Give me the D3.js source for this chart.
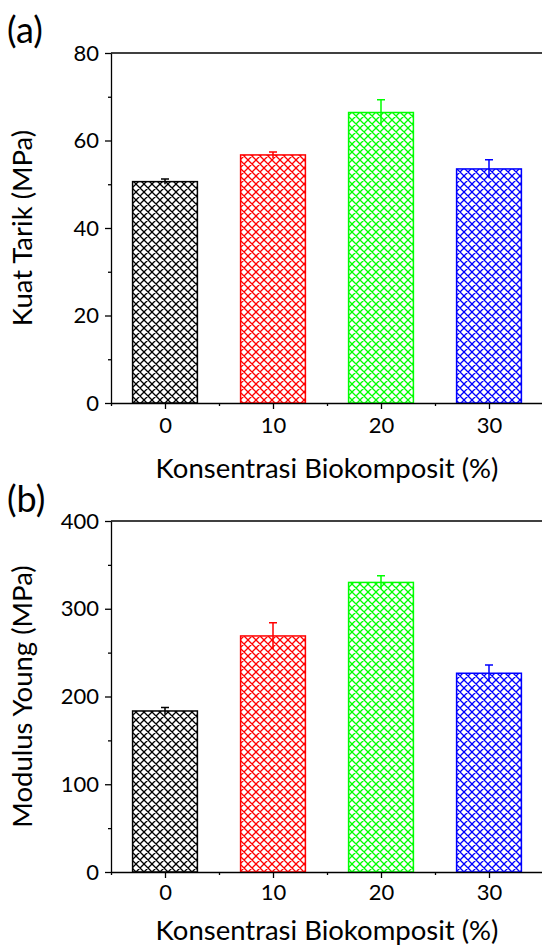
<!DOCTYPE html>
<html><head><meta charset="utf-8">
<script src="https://cdn.jsdelivr.net/npm/d3@7"></script>
<style>body{margin:0;background:#fff} svg{display:block}</style>
</head><body>
<svg id="chart" width="542" height="950"></svg>
<script>
const categories = [0, 10, 20, 30];
const barColors = ["#000000", "#ff0000", "#00ff00", "#0000ff"];
const tensileMean = [50.6, 56.7, 66.4, 53.5];
const tensileErr = [0.6, 0.7, 2.9, 2.1];
const modulusMean = [183.5, 269, 330, 226.5];
const modulusErr = [4, 15, 7.5, 9.5];
const tensileTicks = [0, 20, 40, 60, 80];
const tensileMinor = [10, 30, 50, 70];
const modulusTicks = [0, 100, 200, 300, 400];
const modulusMinor = [50, 150, 250, 350];
const xMinor = [-5, 5, 15, 25];
const xTitle = "Konsentrasi Biokomposit (%)";
const panels = [
  {label: "(a)", yTitle: "Kuat Tarik (MPa)", mean: tensileMean, err: tensileErr, ticks: tensileTicks, minor: tensileMinor},
  {label: "(b)", yTitle: "Modulus Young (MPa)", mean: modulusMean, err: modulusErr, ticks: modulusTicks, minor: modulusMinor}
];

const FONT = "Lato, 'Open Sans', sans-serif";
const svg = d3.select("#chart");
const defs = svg.append("defs");
barColors.forEach((c, i) => {
  const p = defs.append("pattern").attr("id", "hatch" + i)
    .attr("patternUnits", "userSpaceOnUse").attr("width", 8).attr("height", 8);
  p.append("path").attr("d", "M0,0L8,8M8,0L0,8M-1,7L1,9M7,-1L9,1M-1,1L1,-1M7,9L9,7")
    .attr("stroke", c).attr("stroke-width", 1.3).attr("fill", "none");
});

const layout = [
  {top: 53, bottom: 403, labelY: 43, tickLabelBase: 433, titleBase: 478},
  {top: 521, bottom: 872, labelY: 512, tickLabelBase: 900, titleBase: 940}
];

const x = d3.scaleLinear().domain([-5, 35]).range([111, 543]);

const probe = svg.append("text").attr("font-family", FONT).attr("font-size", 20).text(xTitle);
const titleSize = 20 * 343 / probe.node().getComputedTextLength();
probe.remove();

panels.forEach((pd, pi) => {
  const L = layout[pi];
  const ymax = pd.ticks[pd.ticks.length - 1];
  const y = d3.scaleLinear().domain([0, ymax]).range([L.bottom, L.top]);
  const g = svg.append("g");

  g.selectAll("rect.bar").data(categories).enter().append("rect")
    .attr("x", d => x(d - 3)).attr("width", d => x(d + 3) - x(d - 3))
    .attr("y", (d, i) => y(pd.mean[i])).attr("height", (d, i) => y(0) - y(pd.mean[i]))
    .attr("fill", (d, i) => "url(#hatch" + i + ")")
    .attr("stroke", (d, i) => barColors[i]).attr("stroke-width", 1.5);

  g.selectAll("path.err").data(categories).enter().append("path")
    .attr("d", (d, i) => {
      const cx = x(d), hi = y(pd.mean[i] + pd.err[i]), lo = y(pd.mean[i] - pd.err[i]);
      return `M${cx},${lo}L${cx},${hi}M${cx - 4},${hi}L${cx + 4},${hi}`;
    })
    .attr("stroke", (d, i) => barColors[i]).attr("stroke-width", 1.5).attr("fill", "none");

  g.append("line").attr("x1", x(-5)).attr("x2", x(35)).attr("y1", L.top).attr("y2", L.top)
    .attr("stroke", "#000").attr("stroke-width", 1.3);

  const ya = g.append("g").attr("transform", `translate(${x(-5)},0)`)
    .call(d3.axisLeft(y).tickValues(pd.ticks).tickSize(6).tickSizeOuter(0).tickPadding(6));
  ya.select(".domain").attr("stroke-width", 1.3);
  ya.selectAll(".tick line").attr("stroke-width", 1.3);
  ya.selectAll("text").attr("font-family", FONT).attr("font-size", 22).attr("fill", "#000");
  const ym = g.append("g").attr("transform", `translate(${x(-5)},0)`)
    .call(d3.axisLeft(y).tickValues(pd.minor).tickSize(3).tickFormat(""));
  ym.select(".domain").remove();
  ym.selectAll(".tick line").attr("stroke-width", 1.3);

  const xa = g.append("g").attr("transform", `translate(0,${L.bottom})`)
    .call(d3.axisBottom(x).tickValues(categories).tickSize(6).tickSizeOuter(0).tickFormat(d3.format("d")));
  xa.select(".domain").attr("stroke-width", 1.3);
  xa.selectAll(".tick line").attr("stroke-width", 1.3);
  xa.selectAll("text").attr("font-family", FONT).attr("font-size", 22).attr("fill", "#000")
    .attr("dy", null).attr("y", L.tickLabelBase - L.bottom);
  const xm = g.append("g").attr("transform", `translate(0,${L.bottom})`)
    .call(d3.axisBottom(x).tickValues(xMinor).tickSize(3).tickFormat(""));
  xm.select(".domain").remove();
  xm.selectAll(".tick line").attr("stroke-width", 1.3);

  g.append("text").attr("x", (x(0) + x(30)) / 2).attr("y", L.titleBase)
    .attr("text-anchor", "middle").attr("font-family", FONT).attr("font-size", titleSize)
    .attr("fill", "#000").text(xTitle);
  g.append("text").attr("transform", `translate(32,${(L.top + L.bottom) / 2}) rotate(-90)`)
    .attr("text-anchor", "middle").attr("font-family", FONT).attr("font-size", titleSize)
    .attr("fill", "#000").text(pd.yTitle);
  g.append("text").attr("x", 7).attr("y", L.labelY).attr("font-family", FONT)
    .attr("font-size", 36).attr("fill", "#000").text(pd.label);
});
</script>
</body></html>
